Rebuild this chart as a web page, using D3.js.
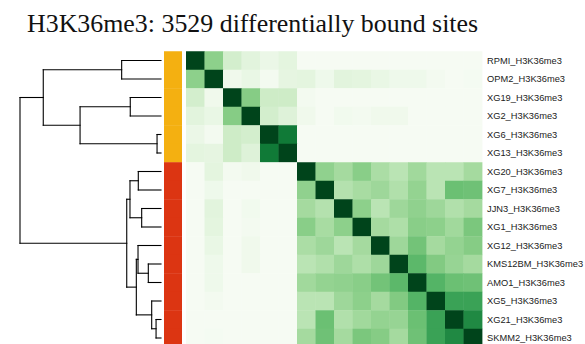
<!DOCTYPE html>
<html>
<head>
<meta charset="utf-8">
<script src="https://cdn.jsdelivr.net/npm/d3@7"></script>
<style>
  html, body { margin: 0; padding: 0; background: #fff; }
  svg { display: block; }
</style>
</head>
<body>
<svg id="chart" width="585" height="344"></svg>
<script>
// ---- data ----
const titleText = "H3K36me3: 3529 differentially bound sites";

// samples in dendrogram order (top to bottom)
const rowLabels = [
  "RPMI_H3K36me3", "OPM2_H3K36me3", "XG19_H3K36me3", "XG2_H3K36me3",
  "XG6_H3K36me3", "XG13_H3K36me3", "XG20_H3K36me3", "XG7_H3K36me3",
  "JJN3_H3K36me3", "XG1_H3K36me3", "XG12_H3K36me3", "KMS12BM_H3K36me3",
  "AMO1_H3K36me3", "XG5_H3K36me3", "XG21_H3K36me3", "SKMM2_H3K36me3"
];

// sample group shown in the side colour bar
const rowGroups = [1, 1, 1, 1, 1, 1, 2, 2, 2, 2, 2, 2, 2, 2, 2, 2];

// pairwise similarity scores (0..1), same order as rowLabels
const scores = [
  [1.00, 0.43, 0.20, 0.13, 0.08, 0.12, 0.01, 0.01, 0.01, 0.01, 0.01, 0.01, 0.01, 0.01, 0.01, 0.01],
  [0.43, 1.00, 0.05, 0.09, 0.03, 0.11, 0.12, 0.06, 0.13, 0.12, 0.09, 0.06, 0.06, 0.03, 0.01, 0.02],
  [0.20, 0.05, 1.00, 0.45, 0.22, 0.22, 0.03, 0.01, 0.01, 0.01, 0.01, 0.01, 0.01, 0.01, 0.01, 0.01],
  [0.13, 0.09, 0.45, 1.00, 0.20, 0.15, 0.05, 0.01, 0.04, 0.03, 0.05, 0.05, 0.01, 0.01, 0.01, 0.01],
  [0.08, 0.03, 0.22, 0.20, 1.00, 0.82, 0.01, 0.01, 0.01, 0.01, 0.01, 0.01, 0.01, 0.01, 0.01, 0.01],
  [0.12, 0.11, 0.22, 0.15, 0.82, 1.00, 0.01, 0.01, 0.01, 0.01, 0.01, 0.01, 0.01, 0.01, 0.01, 0.01],
  [0.01, 0.12, 0.03, 0.05, 0.01, 0.01, 1.00, 0.42, 0.36, 0.44, 0.34, 0.29, 0.37, 0.29, 0.29, 0.36],
  [0.01, 0.06, 0.01, 0.01, 0.01, 0.01, 0.42, 1.00, 0.31, 0.35, 0.38, 0.32, 0.41, 0.29, 0.52, 0.51],
  [0.01, 0.13, 0.01, 0.04, 0.01, 0.01, 0.36, 0.31, 1.00, 0.43, 0.29, 0.38, 0.42, 0.38, 0.32, 0.36],
  [0.01, 0.12, 0.01, 0.03, 0.01, 0.01, 0.44, 0.35, 0.43, 1.00, 0.36, 0.33, 0.44, 0.43, 0.37, 0.48],
  [0.01, 0.09, 0.01, 0.05, 0.01, 0.01, 0.34, 0.38, 0.29, 0.36, 1.00, 0.38, 0.50, 0.36, 0.41, 0.45],
  [0.01, 0.06, 0.01, 0.05, 0.01, 0.01, 0.29, 0.32, 0.38, 0.33, 0.38, 1.00, 0.56, 0.46, 0.40, 0.36],
  [0.01, 0.06, 0.01, 0.01, 0.01, 0.01, 0.37, 0.41, 0.42, 0.44, 0.50, 0.56, 1.00, 0.58, 0.52, 0.51],
  [0.01, 0.03, 0.01, 0.01, 0.01, 0.01, 0.29, 0.29, 0.38, 0.43, 0.36, 0.46, 0.58, 1.00, 0.66, 0.66],
  [0.01, 0.01, 0.01, 0.01, 0.01, 0.01, 0.29, 0.52, 0.32, 0.37, 0.41, 0.40, 0.52, 0.66, 1.00, 0.76],
  [0.01, 0.02, 0.01, 0.01, 0.01, 0.01, 0.36, 0.51, 0.36, 0.48, 0.45, 0.36, 0.51, 0.66, 0.76, 1.00]
];

// hierarchical clustering merges, hclust style:
// negative = leaf (1-based index into rowLabels), positive = earlier merge (1-based)
const mergeLeft   = [-5, -15, -14, -12, -9, -7, -11,  7, -3, 6, 10, -1,  9, 12, 14];
const mergeRight  = [-6, -16,   2, -13, -10, -8,  4,  3, -4, 5,  8, -2,  1, 13, 11];
const mergeHeight = [0.028, 0.035, 0.066, 0.090, 0.137, 0.161, 0.163, 0.175,
                     0.218, 0.220, 0.243, 0.279, 0.574, 0.835, 1.000];

// ---- styles ----
const groupColor = d3.scaleOrdinal().domain([1, 2]).range(["#f4b011", "#dc3512"]);
const heatColor = d3.scaleSequential(d3.interpolateGreens).domain([0, 1]);

// ---- layout ----
const svg = d3.select("#chart");
const n = rowLabels.length;
const cell = 18.5;
const gridTop = 51.25;
const heatLeft = 186;

const yBand = d3.scaleBand().domain(d3.range(n)).range([gridTop, gridTop + n * cell]);
const xBand = d3.scaleBand().domain(d3.range(n)).range([heatLeft, heatLeft + n * cell]);
const hScale = d3.scaleLinear().domain([0, 1]).range([161, 20]);

// title
svg.append("text")
  .attr("x", 27)
  .attr("y", 32)
  .attr("font-family", "'Liberation Serif', 'Times New Roman', serif")
  .attr("font-size", 25.9)
  .attr("fill", "#111")
  .text(titleText);

// heatmap cells
const cells = [];
scores.forEach((row, i) => row.forEach((v, j) => cells.push({ i, j, v })));
svg.append("g")
  .selectAll("rect")
  .data(cells)
  .join("rect")
  .attr("x", d => xBand(d.j))
  .attr("y", d => yBand(d.i))
  .attr("width", xBand.bandwidth() + 0.4)
  .attr("height", yBand.bandwidth() + 0.4)
  .attr("fill", d => heatColor(d.v));

// side colour bar
svg.append("g")
  .selectAll("rect")
  .data(rowGroups)
  .join("rect")
  .attr("x", 164)
  .attr("y", (d, i) => yBand(i))
  .attr("width", 18)
  .attr("height", yBand.bandwidth() + 0.4)
  .attr("fill", d => groupColor(d));

// row labels
svg.append("g")
  .selectAll("text")
  .data(rowLabels)
  .join("text")
  .attr("x", 487)
  .attr("y", (d, i) => yBand(i) + yBand.bandwidth() / 2)
  .attr("dy", "0.35em")
  .attr("font-family", "'Liberation Sans', Arial, Helvetica, sans-serif")
  .attr("font-size", 9.3)
  .attr("fill", "#222")
  .text(d => d);

// dendrogram: resolve node positions from the merge table
const nodes = [];
function nodeOf(ref) {
  if (ref < 0) return { y: yBand(-ref - 1) + yBand.bandwidth() / 2, h: 0 };
  return nodes[ref - 1];
}
mergeHeight.forEach((h, k) => {
  const a = nodeOf(mergeLeft[k]);
  const b = nodeOf(mergeRight[k]);
  nodes.push({ y: (a.y + b.y) / 2, h, a, b });
});

const segs = [];
nodes.forEach(nd => {
  const x = hScale(nd.h);
  segs.push([x, nd.a.y, x, nd.b.y]);
  segs.push([x, nd.a.y, hScale(nd.a.h), nd.a.y]);
  segs.push([x, nd.b.y, hScale(nd.b.h), nd.b.y]);
});

svg.append("g")
  .selectAll("line")
  .data(segs)
  .join("line")
  .attr("x1", d => d[0])
  .attr("y1", d => d[1])
  .attr("x2", d => d[2])
  .attr("y2", d => d[3])
  .attr("stroke", "#000")
  .attr("stroke-width", 1.1)
  .attr("stroke-linecap", "square");
</script>
</body>
</html>
